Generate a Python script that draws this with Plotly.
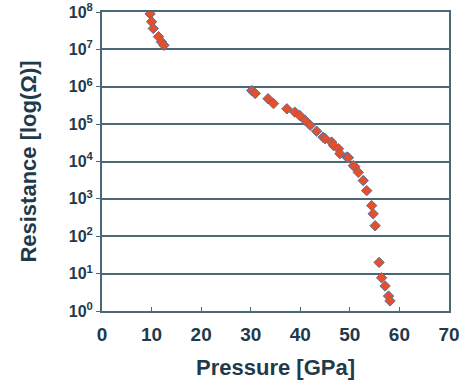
import plotly.graph_objects as go

pressure = [9.7, 10.0, 10.35, 11.4, 12.0, 12.5,
            30.2, 30.9, 33.5, 34.6, 37.3, 38.9, 39.9, 41.0, 42.0,
            43.3, 44.6, 45.0, 46.3, 46.7, 47.7, 48.0, 49.4, 49.7, 50.7, 51.0,
            51.7, 52.7, 53.4, 54.4, 54.7, 55.1,
            55.9, 56.4, 57.1, 57.8, 58.1]
log_resistance = [7.95, 7.74, 7.56, 7.34, 7.2, 7.11,
                  5.9, 5.82, 5.68, 5.55, 5.41, 5.32, 5.23, 5.10, 4.97,
                  4.81, 4.65, 4.61, 4.52, 4.43, 4.34, 4.21, 4.12, 4.10, 3.89, 3.86,
                  3.71, 3.49, 3.22, 2.82, 2.6, 2.28,
                  1.30, 0.89, 0.67, 0.40, 0.27]
resistance = [10 ** v for v in log_resistance]

x_ticks = [0, 10, 20, 30, 40, 50, 60, 70]
y_tick_vals = [10 ** k for k in range(0, 9)]
y_tick_text = ["10<sup>%d</sup>" % k for k in range(0, 9)]

axis_col = "#4a6878"
text_col = "#1f3a4a"
fam = "Liberation Sans, Arial, sans-serif"

fig = go.Figure()
fig.add_trace(go.Scatter(
    x=pressure, y=resistance, mode="markers",
    marker=dict(symbol="diamond", size=8, color="#e4502c",
                line=dict(color="#5b6f9a", width=1)),
    showlegend=False,
))

fig.update_layout(
    width=471, height=380,
    margin=dict(l=102, r=22, t=12, b=69),
    paper_bgcolor="white", plot_bgcolor="white",
    font=dict(family=fam, color=text_col),
)
fig.update_xaxes(
    range=[0, 70], tickvals=x_ticks, ticktext=[str(v) for v in x_ticks],
    showgrid=False, zeroline=False, automargin=False,
    showline=True, linecolor=axis_col, linewidth=2, mirror=True,
    ticks="inside", ticklen=4, tickcolor=axis_col, ticklabelstandoff=5,
    tickfont=dict(size=19, color=text_col, family=fam, weight="bold"),
    title=dict(text="Pressure [GPa]",
               font=dict(size=22, color=text_col, family=fam, weight="bold"),
               standoff=16),
)
fig.update_yaxes(
    type="log", range=[0, 8], tickvals=y_tick_vals, ticktext=y_tick_text,
    showgrid=True, gridcolor=axis_col, gridwidth=2, zeroline=False, automargin=False,
    showline=True, linecolor=axis_col, linewidth=2, mirror=True,
    ticks="outside", ticklen=4, tickcolor=axis_col,
    tickfont=dict(size=16, color=text_col, family=fam, weight="bold"),
    title=dict(text="Resistance [log(Ω)]",
               font=dict(size=22, color=text_col, family=fam, weight="bold"),
               standoff=26),
)

fig.write_html("out.html")
